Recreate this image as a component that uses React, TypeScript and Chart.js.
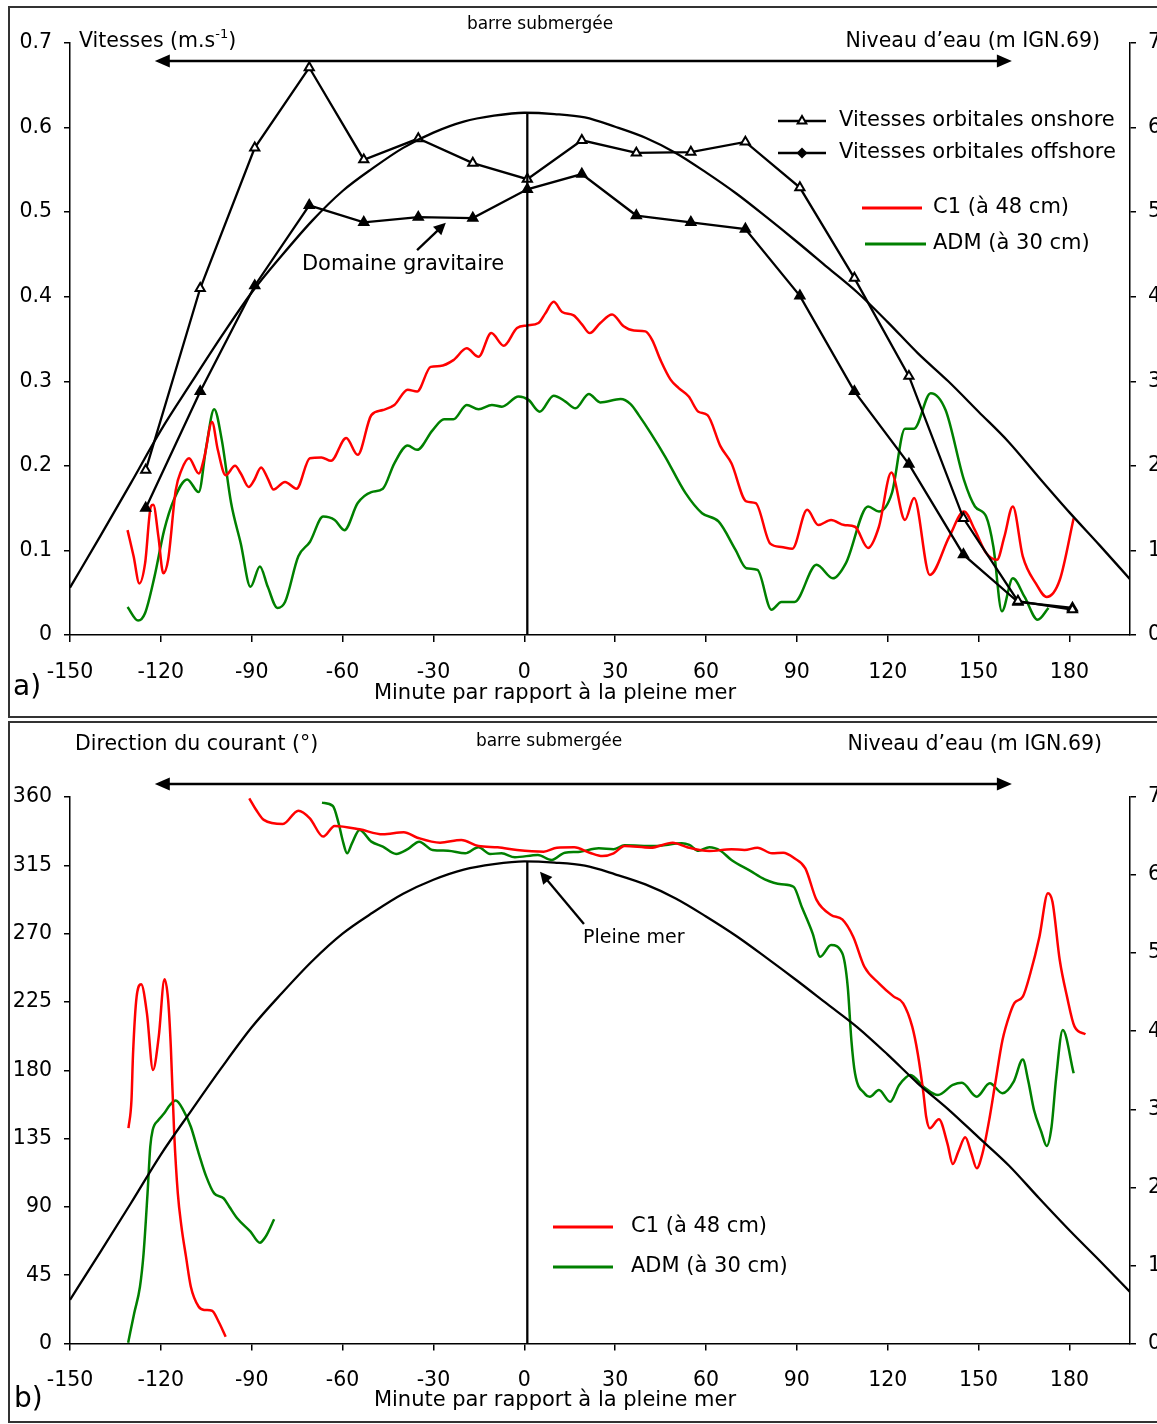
import React, { useEffect, useRef } from "react";
import { Chart, registerables } from "chart.js";
Chart.register(...registerables);

const FONT = '"DejaVu Sans", "Liberation Sans", sans-serif';

// ---------- axes ----------
const X_MIN = -150;
const X_MAX = 200;
const X_TICKS = [-150, -120, -90, -60, -30, 0, 30, 60, 90, 120, 150, 180];
const VEL_TICKS = [0, 0.1, 0.2, 0.3, 0.4, 0.5, 0.6, 0.7];
const DIR_TICKS = [0, 45, 90, 135, 180, 225, 270, 315, 360];
const LEVEL_TICKS = [0, 1, 2, 3, 4, 5, 6, 7];

const HIGH_TIDE_MIN = 1;
const BAR_SUBMERGED = [-122, 161];

// ---------- water level (m IGN.69) ----------
const WATER_T = [-150, -140, -130, -120, -110, -100, -90, -80, -70, -60, -50, -40, -30, -20, -10, 0, 10, 20, 30, 40, 50, 60, 70, 80, 90, 100, 110, 120, 130, 140, 150, 160, 170, 180, 190, 200];
const WATER_LEVEL = [0.56, 1.17, 1.79, 2.42, 2.98, 3.53, 4.05, 4.49, 4.9, 5.25, 5.52, 5.76, 5.94, 6.07, 6.14, 6.175, 6.16, 6.12, 6.01, 5.88, 5.7, 5.47, 5.22, 4.94, 4.65, 4.35, 4.05, 3.7, 3.33, 3.0, 2.64, 2.28, 1.86, 1.45, 1.06, 0.66];

// ---------- orbital velocities ----------
const ORB_T = [-125, -107, -89, -71, -53, -35, -17, 1, 19, 37, 55, 73, 91, 109, 127, 145, 163, 181];
const ONSHORE = [0.195, 0.41, 0.576, 0.671, 0.562, 0.587, 0.558, 0.539, 0.585, 0.57, 0.571, 0.583, 0.529, 0.422, 0.306, 0.138, 0.04, 0.03];
const OFFSHORE = [0.15, 0.288, 0.413, 0.508, 0.488, 0.494, 0.493, 0.527, 0.545, 0.496, 0.488, 0.48, 0.401, 0.288, 0.202, 0.095, 0.039, 0.032];

// ---------- mean velocities (m/s) [minute, value] ----------
const C1_VEL: [number, number][] = [
  [-131, 0.124], [-129, 0.093], [-127.1, 0.061], [-125.2, 0.085], [-123.3, 0.152], [-122.5, 0.154], [-120.8, 0.116], [-119.2, 0.073], [-117.6, 0.089], [-115.1, 0.171],
  [-113.2, 0.195], [-110.7, 0.209], [-107.5, 0.191], [-105.6, 0.211], [-103.1, 0.252], [-101.2, 0.219], [-98.6, 0.189], [-95.5, 0.2], [-93.6, 0.191], [-91, 0.175],
  [-89.2, 0.183], [-86.9, 0.198], [-84.7, 0.185], [-82.8, 0.172], [-79, 0.181], [-75.2, 0.173], [-70.8, 0.209], [-67, 0.21], [-63.8, 0.206], [-58.8, 0.233],
  [-55, 0.213], [-50.5, 0.26], [-46.7, 0.266], [-42.9, 0.272], [-38.5, 0.29], [-35.4, 0.288], [-30.9, 0.317], [-27.8, 0.318], [-23.4, 0.325], [-19, 0.339],
  [-15.1, 0.329], [-10.9, 0.357], [-6.8, 0.342], [-2.4, 0.363], [0.9, 0.366], [4.7, 0.369], [6.9, 0.38], [9.7, 0.394], [12.5, 0.382], [16.3, 0.378],
  [19.1, 0.367], [21.6, 0.357], [25.1, 0.369], [29, 0.379], [32.8, 0.365], [36.2, 0.36], [40, 0.359], [42.2, 0.349], [45, 0.325], [48.3, 0.302],
  [51, 0.292], [54.3, 0.282], [57.5, 0.264], [60.5, 0.26], [64.8, 0.223], [68.4, 0.203], [73.3, 0.158], [76.4, 0.156], [81.2, 0.108], [84.9, 0.104],
  [88.5, 0.102], [93.4, 0.148], [97.1, 0.13], [101.3, 0.136], [105.6, 0.13], [109.2, 0.128], [113.5, 0.103], [117.1, 0.128], [121.2, 0.192], [125.7, 0.136],
  [128.7, 0.162], [133.9, 0.071], [140.3, 0.116], [145.2, 0.146], [148.8, 0.124], [152.5, 0.097], [156.1, 0.089], [158.5, 0.116], [161.3, 0.152], [164.6, 0.093],
  [168.9, 0.061], [172.5, 0.045], [176.8, 0.065], [181.4, 0.138],
];
const ADM_VEL: [number, number][] = [
  [-131, 0.033], [-127.5, 0.017], [-125.2, 0.026], [-122.1, 0.069], [-118.9, 0.124], [-115.7, 0.16], [-111.3, 0.184], [-107.5, 0.169], [-105, 0.223], [-102.4, 0.267],
  [-99.9, 0.231], [-96.8, 0.156], [-93.6, 0.108], [-90.4, 0.057], [-87.3, 0.081], [-84.7, 0.057], [-81.5, 0.032], [-79, 0.039], [-74.6, 0.093], [-70.8, 0.11],
  [-66.4, 0.14], [-62.6, 0.136], [-59.4, 0.124], [-55, 0.156], [-50.5, 0.169], [-46.7, 0.173], [-42.9, 0.203], [-38.5, 0.224], [-35.4, 0.219], [-30.3, 0.242],
  [-26.5, 0.255], [-23.4, 0.255], [-19, 0.272], [-15.1, 0.267], [-10.7, 0.272], [-7.4, 0.27], [-1.9, 0.282], [1.4, 0.278], [5.1, 0.264], [9.7, 0.283],
  [13.6, 0.276], [16.9, 0.268], [21.3, 0.285], [25.1, 0.275], [31.8, 0.279], [35.1, 0.273], [37.8, 0.26], [41.7, 0.239], [46.5, 0.211], [53.2, 0.168],
  [58.7, 0.144], [64.2, 0.134], [69.7, 0.101], [73.3, 0.079], [77, 0.077], [81.6, 0.03], [84.9, 0.039], [89.2, 0.039], [96.5, 0.083], [101.9, 0.067],
  [106.2, 0.085], [113.5, 0.152], [117.1, 0.146], [121.4, 0.168], [125.7, 0.244], [128.7, 0.244], [134.2, 0.286], [139.1, 0.266], [145.2, 0.183], [148.8, 0.152],
  [152.5, 0.14], [154.9, 0.104], [157.7, 0.028], [161.3, 0.067], [165.2, 0.045], [169.5, 0.018], [173.1, 0.032],
];

// ---------- current direction (deg) [minute, value]; null = gap ----------
const C1_DIR: [number, number | null][] = [
  [-130.7, 141.8], [-129.7, 160.4], [-129.2, 190], [-128, 228.5], [-126.5, 236.6], [-124.6, 217.5], [-122.6, 180.2], [-120.7, 202.1], [-118.8, 239.9], [-117.6, 226.3],
  [-116.7, 195], [-115.6, 138.5], [-114.4, 98.9], [-113.2, 77], [-111.7, 57.2], [-110.1, 37.4], [-107.5, 24.2], [-105.6, 22.1], [-103.1, 21.6], [-101.2, 15.5],
  [-98.6, 4.5], [-95, null],
  [-90.8, 359.1], [-88.5, 351.4], [-86, 344.9], [-79.7, 342.2], [-74.6, 351], [-70.8, 346], [-66.4, 333.9], [-62.6, 340.9], [-54.4, 338.7], [-46.7, 335.4],
  [-39.8, 336.8], [-35.3, 333.2], [-27.8, 329.9], [-20.8, 331.7], [-15.1, 327.7], [-8.8, 326.9], [-2.4, 325.1], [6.4, 324], [10.8, 326.6], [16.5, 326.9],
  [21.6, 323.3], [25.8, 321.1], [29.5, 322.9], [33.1, 327.7], [41.7, 326.6], [49, 329.9], [53.8, 326.9], [61.1, 324.4], [68.4, 325.6], [72.7, 325.1],
  [77, 326.6], [81.8, 322.9], [85.5, 323.3], [89.2, 319.6], [92.8, 313], [96.5, 292.2], [101.3, 282.3], [105, 279.4], [108.6, 268], [112.3, 248.2],
  [117.1, 237.3], [122, 228.5], [125.1, 224.1], [128.1, 208.7], [129.9, 191.2], [131.8, 164.8], [132.7, 149.4], [133.9, 141.8], [136.9, 147.7], [139.7, 131.9],
  [141.5, 118.2], [143.3, 126.3], [145.6, 135.8], [147.6, 125.3], [149.4, 115.4], [151.3, 125.3], [153.7, 149.4], [155.5, 171.4], [157.9, 199.9], [160.4, 217.5],
  [161.9, 224.5], [164.6, 228.5], [167.1, 243.9], [170.1, 268], [172.9, 296.6], [174.4, 291], [176.8, 252.6], [179.2, 228.5], [181.7, 208.7], [185.3, 203.7],
];
const ADM_DIR: [number, number | null][] = [
  [-130.8, 0.5], [-128.8, 19.9], [-126.9, 37.4], [-125.7, 59.4], [-124.4, 98.9], [-123.5, 129.6], [-122.7, 140.6], [-120.8, 147.2], [-118.9, 151.6], [-117, 157.1],
  [-115.1, 160], [-112.6, 153.8], [-110.1, 142.8], [-107.5, 125.3], [-105, 109.9], [-102.4, 98.9], [-99.3, 95.7], [-97.4, 90.1], [-94.8, 82.5], [-90.4, 73.7],
  [-87.3, 66.4], [-85.4, 70.4], [-82.6, 81.8], [-75, null],
  [-66.8, 356.3], [-63.2, 354.1], [-61.3, 342.7], [-60, 331.7], [-58.5, 322.9], [-56.9, 329.5], [-54.4, 338.3], [-50.5, 330.6], [-46.7, 327.3], [-42.3, 322.5],
  [-38.5, 325.6], [-34.7, 330.6], [-30.3, 325.1], [-25.2, 324.6], [-19.5, 322.9], [-15.1, 326.9], [-11.3, 322.5], [-7.5, 322.9], [-3.1, 320.3], [4.5, 321.8],
  [9, 318.5], [13.4, 323.3], [17.8, 323.8], [24.6, 326.2], [29.5, 325.6], [33.1, 328.2], [42.9, 327.7], [52, 329.5], [54.5, 328.4], [57.5, 324.6],
  [61.1, 326.9], [64.8, 324.6], [68.4, 318.5], [74.5, 311.5], [79.4, 305.8], [84.9, 302.5], [88.9, 300.9], [91.6, 287.7], [95.2, 270.2], [97.7, 254.8],
  [101.3, 262.5], [105, 257], [106.8, 235], [108, 199.9], [109.2, 178], [112.3, 164.8], [114.1, 162.6], [117.1, 167], [120.8, 159.3], [123.8, 170.3],
  [127.5, 176.9], [131.8, 169.2], [136.6, 163.7], [141.5, 170.3], [144.5, 171.8], [149.4, 162.6], [153.7, 171.4], [157.9, 164.8], [161.6, 172.5], [164.6, 187],
  [166.4, 173], [168.3, 153.8], [170.7, 139.5], [172.5, 130.1], [174.1, 142.8], [175.6, 174.7], [177.8, 206.5], [181.4, 178],
];

const RED = "#ff0000";
const GREEN = "#008000";
const BLACK_W = 2.3;
const COLOR_W = 2.5;

// ---------- helpers ----------
const pairs = (arr: [number, number | null][]) => arr.map(([x, y]) => ({ x, y }));
const zip = (t: number[], v: number[]) => t.map((x, i) => ({ x, y: v[i] }));
function interp(t: number[], v: number[], x: number) {
  for (let i = 0; i < t.length - 1; i++) {
    if (x >= t[i] && x <= t[i + 1]) return v[i] + ((v[i + 1] - v[i]) * (x - t[i])) / (t[i + 1] - t[i]);
  }
  return v[v.length - 1];
}

function txt(ctx: CanvasRenderingContext2D, s: string, x: number, y: number, size: number, align: CanvasTextAlign = "left") {
  ctx.font = `${size}px ${FONT}`;
  ctx.fillStyle = "#000";
  ctx.textAlign = align;
  ctx.textBaseline = "middle";
  ctx.fillText(s, x, y);
  return ctx.measureText(s).width;
}
function head(ctx: CanvasRenderingContext2D, tx: number, ty: number, fx: number, fy: number, len: number, half: number) {
  const a = Math.atan2(ty - fy, tx - fx);
  const c = Math.cos(a), s = Math.sin(a);
  ctx.beginPath();
  ctx.moveTo(tx, ty);
  ctx.lineTo(tx - len * c + half * s, ty - len * s - half * c);
  ctx.lineTo(tx - len * c - half * s, ty - len * s + half * c);
  ctx.closePath();
  ctx.fill();
}
function arrow(ctx: CanvasRenderingContext2D, x1: number, y1: number, x2: number, y2: number, w: number, len: number, half: number, both: boolean) {
  const a = Math.atan2(y2 - y1, x2 - x1);
  const c = Math.cos(a), s = Math.sin(a);
  ctx.strokeStyle = "#000";
  ctx.fillStyle = "#000";
  ctx.lineWidth = w;
  ctx.beginPath();
  ctx.moveTo(both ? x1 + (len - 2) * c : x1, both ? y1 + (len - 2) * s : y1);
  ctx.lineTo(x2 - (len - 2) * c, y2 - (len - 2) * s);
  ctx.stroke();
  head(ctx, x2, y2, x1, y1, len, half);
  if (both) head(ctx, x1, y1, x2, y2, len, half);
}
function legLine(ctx: CanvasRenderingContext2D, x1: number, x2: number, y: number, color: string, w: number) {
  ctx.strokeStyle = color;
  ctx.lineWidth = w;
  ctx.beginPath();
  ctx.moveTo(x1, y);
  ctx.lineTo(x2, y);
  ctx.stroke();
}
function tri(ctx: CanvasRenderingContext2D, x: number, y: number, r: number, filled: boolean) {
  ctx.beginPath();
  ctx.moveTo(x, y - r);
  ctx.lineTo(x + 0.866 * r, y + 0.5 * r);
  ctx.lineTo(x - 0.866 * r, y + 0.5 * r);
  ctx.closePath();
  ctx.fillStyle = filled ? "#000" : "#fff";
  ctx.fill();
  ctx.strokeStyle = "#000";
  ctx.lineWidth = 2;
  ctx.stroke();
}
function diamond(ctx: CanvasRenderingContext2D, x: number, y: number, r: number) {
  ctx.beginPath();
  ctx.moveTo(x, y - r);
  ctx.lineTo(x + r, y);
  ctx.lineTo(x, y + r);
  ctx.lineTo(x - r, y);
  ctx.closePath();
  ctx.fillStyle = "#000";
  ctx.fill();
}

function buildScales(yMax: number, yTicks: number[], xAxisH: number) {
  const tickFont = { family: FONT, size: 20.5 };
  const grid = { drawOnChartArea: false, drawTicks: true, color: "#000", lineWidth: 1.5 };
  const border = { display: true, color: "#000", width: 1.5 };
  return {
    x: {
      type: "linear",
      min: X_MIN,
      max: X_MAX,
      afterBuildTicks: (s: any) => { s.ticks = X_TICKS.map((v) => ({ value: v })); },
      afterFit: (s: any) => { s.height = xAxisH; },
      ticks: { font: tickFont, color: "#000", padding: 18, maxRotation: 0, autoSkip: false, callback: (v: any) => String(v) },
      grid: { ...grid, tickLength: 7 },
      border,
    },
    y: {
      type: "linear",
      position: "left",
      min: 0,
      max: yMax,
      afterBuildTicks: (s: any) => { s.ticks = yTicks.map((v) => ({ value: v })); },
      afterFit: (s: any) => { s.width = 70; },
      ticks: { font: tickFont, color: "#000", padding: 12, callback: (v: any) => String(v) },
      grid: { ...grid, tickLength: 6 },
      border,
    },
    y2: {
      type: "linear",
      position: "right",
      min: 0,
      max: 7,
      afterBuildTicks: (s: any) => { s.ticks = LEVEL_TICKS.map((v) => ({ value: v })); },
      afterFit: (s: any) => { s.width = 27; },
      ticks: { font: tickFont, color: "#000", padding: 12, callback: (v: any) => String(v) },
      grid: { ...grid, tickLength: 6 },
      border,
    },
  };
}

function waterSets() {
  const peak = interp(WATER_T, WATER_LEVEL, HIGH_TIDE_MIN);
  return [
    {
      label: "Niveau d’eau",
      data: zip(WATER_T, WATER_LEVEL),
      yAxisID: "y2",
      borderColor: "#000",
      borderWidth: BLACK_W,
      pointRadius: 0,
      cubicInterpolationMode: "monotone",
    },
    {
      label: "Pleine mer",
      data: [{ x: HIGH_TIDE_MIN, y: 0 }, { x: HIGH_TIDE_MIN, y: peak }],
      yAxisID: "y2",
      borderColor: "#000",
      borderWidth: BLACK_W,
      pointRadius: 0,
      tension: 0,
    },
  ];
}

function curve(label: string, data: any[], color: string) {
  return {
    label,
    data,
    yAxisID: "y",
    borderColor: color,
    backgroundColor: color,
    borderWidth: COLOR_W,
    pointRadius: 0,
    cubicInterpolationMode: "monotone",
    spanGaps: false,
  };
}

function orbital(label: string, values: number[], fill: string) {
  return {
    label,
    data: zip(ORB_T, values),
    yAxisID: "y",
    borderColor: "#000",
    borderWidth: BLACK_W,
    pointStyle: "triangle",
    pointRadius: 5.3,
    pointBorderWidth: 2,
    pointBackgroundColor: fill,
    pointBorderColor: "#000",
    tension: 0,
  };
}

const annotA = {
  id: "annotA",
  afterDraw(chart: any) {
    const ctx: CanvasRenderingContext2D = chart.ctx;
    const xs = chart.scales.x, ys = chart.scales.y;
    const ds = chart.data.datasets;
    ctx.save();
    txt(ctx, "barre submergée", 540, 25, 17, "center");
    const w1 = txt(ctx, "Vitesses (m.s", 79, 42, 20.5);
    const w2 = txt(ctx, "-1", 79 + w1, 35, 13);
    txt(ctx, ")", 79 + w1 + w2, 42, 20.5);
    txt(ctx, "Niveau d’eau (m IGN.69)", 1100, 42, 20.5, "right");
    arrow(ctx, xs.getPixelForValue(BAR_SUBMERGED[0]), 61, xs.getPixelForValue(BAR_SUBMERGED[1]), 61, 2.7, 15, 6.5, true);

    // legend (orbital)
    legLine(ctx, 778, 826, 121, "#000", BLACK_W);
    tri(ctx, 802, 121, 5, false);
    txt(ctx, ds[2].label, 839, 121, 21);
    legLine(ctx, 778, 826, 153, "#000", BLACK_W);
    diamond(ctx, 802, 153, 5.5);
    txt(ctx, ds[3].label, 839, 153, 21);
    // legend (currents)
    legLine(ctx, 862, 922, 208, RED, 3);
    txt(ctx, ds[4].label, 933, 208, 21);
    legLine(ctx, 865, 926, 244, GREEN, 3);
    txt(ctx, ds[5].label, 933, 244, 21);

    // Domaine gravitaire
    txt(ctx, "Domaine gravitaire", 403, 265, 21, "center");
    arrow(ctx, xs.getPixelForValue(-35.4), ys.getPixelForValue(0.455), xs.getPixelForValue(-25.9), ys.getPixelForValue(0.4875), 2.3, 12, 6, false);

    txt(ctx, "Minute par rapport à la pleine mer", 555, 694, 21, "center");
    txt(ctx, "a)", 13, 688, 28);
    ctx.restore();
  },
};

const annotB = {
  id: "annotB",
  afterDraw(chart: any) {
    const ctx: CanvasRenderingContext2D = chart.ctx;
    const xs = chart.scales.x, ys = chart.scales.y;
    const ds = chart.data.datasets;
    ctx.save();
    txt(ctx, "Direction du courant (°)", 75, 25, 20.5);
    txt(ctx, "barre submergée", 549, 22, 17, "center");
    txt(ctx, "Niveau d’eau (m IGN.69)", 1102, 25, 20.5, "right");
    arrow(ctx, xs.getPixelForValue(BAR_SUBMERGED[0]), 64, xs.getPixelForValue(BAR_SUBMERGED[1]), 64, 2.7, 15, 6.5, true);

    txt(ctx, "Pleine mer", 583, 218, 19);
    arrow(ctx, xs.getPixelForValue(19.7), ys.getPixelForValue(276.4), xs.getPixelForValue(5.2), ys.getPixelForValue(310.8), 2.3, 12, 6, false);

    legLine(ctx, 553, 613, 507, RED, 3);
    txt(ctx, ds[2].label, 631, 507, 21);
    legLine(ctx, 553, 613, 547, GREEN, 3);
    txt(ctx, ds[3].label, 631, 547, 21);

    txt(ctx, "Minute par rapport à la pleine mer", 555, 681, 21, "center");
    txt(ctx, "b)", 14, 680, 28);
    ctx.restore();
  },
};

function baseOptions(padTop: number, yMax: number, yTicks: number[], xAxisH: number) {
  return {
    responsive: false,
    animation: false,
    devicePixelRatio: 1,
    layout: { padding: { top: padTop, left: 0, right: 0, bottom: 0 } },
    plugins: { legend: { display: false }, tooltip: { enabled: false } },
    events: [],
    scales: buildScales(yMax, yTicks, xAxisH),
  };
}

export default function App() {
  const refA = useRef<HTMLCanvasElement>(null);
  const refB = useRef<HTMLCanvasElement>(null);

  useEffect(() => {
    const chartA = new Chart(refA.current as HTMLCanvasElement, {
      type: "line",
      data: {
        datasets: [
          ...waterSets(),
          orbital("Vitesses orbitales onshore", ONSHORE, "#fff"),
          orbital("Vitesses orbitales offshore", OFFSHORE, "#000"),
          curve("C1 (à 48 cm)", pairs(C1_VEL), RED),
          curve("ADM (à 30 cm)", pairs(ADM_VEL), GREEN),
        ] as any,
      },
      options: baseOptions(43, 0.7, VEL_TICKS, 83) as any,
      plugins: [annotA],
    });

    const chartB = new Chart(refB.current as HTMLCanvasElement, {
      type: "line",
      data: {
        datasets: [
          ...waterSets(),
          curve("C1 (à 48 cm)", pairs(C1_DIR), RED),
          curve("ADM (à 30 cm)", pairs(ADM_DIR), GREEN),
        ] as any,
      },
      options: baseOptions(77, 360, DIR_TICKS, 80.5) as any,
      plugins: [annotB],
    });

    return () => {
      chartA.destroy();
      chartB.destroy();
    };
  }, []);

  return (
    <div style={{ position: "absolute", left: 0, top: 0, width: 1157, height: 1424, overflow: "hidden", background: "#fff" }}>
      <div style={{ position: "absolute", left: 8, top: 6, width: 1160, height: 708, border: "2px solid #333" }} />
      <div style={{ position: "absolute", left: 8, top: 721, width: 1160, height: 698, border: "2px solid #333" }} />
      <canvas ref={refA} width={1157} height={718} style={{ position: "absolute", left: 0, top: 0, width: 1157, height: 718 }} />
      <canvas ref={refB} width={1157} height={704} style={{ position: "absolute", left: 0, top: 720, width: 1157, height: 704 }} />
    </div>
  );
}
